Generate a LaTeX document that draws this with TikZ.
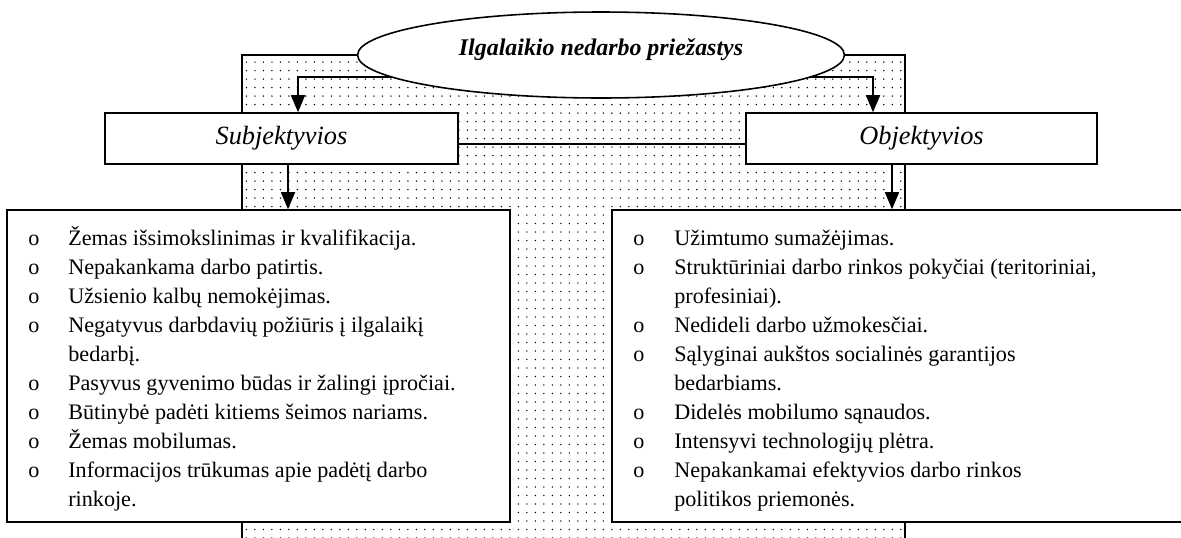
\documentclass[tikz,border=0pt]{standalone}
\usepackage{fontspec}
\setmainfont{Liberation Serif}
\usetikzlibrary{positioning, calc, shapes, arrows.meta, patterns.meta}

\pgfdeclarelayer{bg}
\pgfsetlayers{bg,main}

\tikzset{
  box/.style={draw, line width=0.9pt, fill=white, inner sep=0pt},
  conn/.style={line width=0.9pt},
  arr/.style={conn, -{Triangle[length=0.34cm, width=0.28cm]}},
  itemtxt/.style={anchor=base west, inner sep=0pt, font=\fontsize{12.6}{14}\selectfont},
  headtxt/.style={font=\fontsize{15}{17}\selectfont\itshape},
}

\begin{document}
\begin{tikzpicture}[x=0.02cm, y=-0.02cm]

\useasboundingbox (0,0) rectangle (1181,538);

%//top: ellipse and the two groups
\node [box, ellipse, minimum width=9.74cm, minimum height=1.72cm, text height=10pt, text depth=10pt,
  font=\fontsize{13.6}{15}\selectfont\bfseries\itshape] (title) at (601,55) {Ilgalaikio nedarbo priežastys};

\node [box, headtxt, minimum width=7.06cm, minimum height=1.02cm] (subj) at (281.5,138.5) {Subjektyvios};
\node [box, headtxt, minimum width=7.02cm, minimum height=1.02cm] (obj) at (921.5,138.5) {Objektyvios};

%//the two lists
\node [box, minimum width=10.06cm, minimum height=6.24cm] (subjlist) at (258.5,366) {};
\node [box, minimum width=11.66cm, minimum height=6.24cm] (objlist) at (903.5,366) {};

\foreach \i in {0,1,2,3,5,6,7,8}
\node [itemtxt] (sb\i) at (28, 245+29*\i) {o};

\foreach \i/\t in {0/{Žemas išsimokslinimas ir kvalifikacija.}, 1/{Nepakankama darbo patirtis.},
  2/{Užsienio kalbų nemokėjimas.}, 3/{Negatyvus darbdavių požiūris į ilgalaikį}, 4/{bedarbį.},
  5/{Pasyvus gyvenimo būdas ir žalingi įpročiai.}, 6/{Būtinybė padėti kitiems šeimos nariams.},
  7/{Žemas mobilumas.}, 8/{Informacijos trūkumas apie padėtį darbo}, 9/{rinkoje.}}
\node [itemtxt] (st\i) at (68, 245+29*\i) {\t};

\foreach \i in {0,1,3,4,6,7,8}
\node [itemtxt] (ob\i) at (633, 245+29*\i) {o};

\foreach \i/\t in {0/{Užimtumo sumažėjimas.}, 1/{Struktūriniai darbo rinkos pokyčiai (teritoriniai,},
  2/{profesiniai).}, 3/{Nedideli darbo užmokesčiai.}, 4/{Sąlyginai aukštos socialinės garantijos},
  5/{bedarbiams.}, 6/{Didelės mobilumo sąnaudos.}, 7/{Intensyvi technologijų plėtra.},
  8/{Nepakankamai efektyvios darbo rinkos}, 9/{politikos priemonės.}}
\node [itemtxt] (ot\i) at (674, 245+29*\i) {\t};

%//background and connectors
\begin{pgfonlayer}{bg}
\fill [pattern={Dots[radius=0.45pt, distance=0.17cm]}, pattern color=black] (242,55) rectangle (905,540);
\draw [conn] (242,540) -- (242,55) -- (905,55) -- (905,540);

\draw [arr] ($(title.center)+(0,22)$) -| ([xshift=0.33cm]subj.north);
\draw [arr] ($(title.center)+(0,22)$) -| ([xshift=-0.97cm]obj.north);
\draw [conn] ([yshift=-0.11cm]subj.east) -- ([yshift=-0.11cm]obj.west);
\draw [arr] ([xshift=0.13cm]subj.south) -- ([xshift=0.13cm]subj.south |- subjlist.north);
\draw [arr] ([xshift=-0.59cm]obj.south) -- ([xshift=-0.59cm]obj.south |- objlist.north);
\end{pgfonlayer}

\end{tikzpicture}
\end{document}
